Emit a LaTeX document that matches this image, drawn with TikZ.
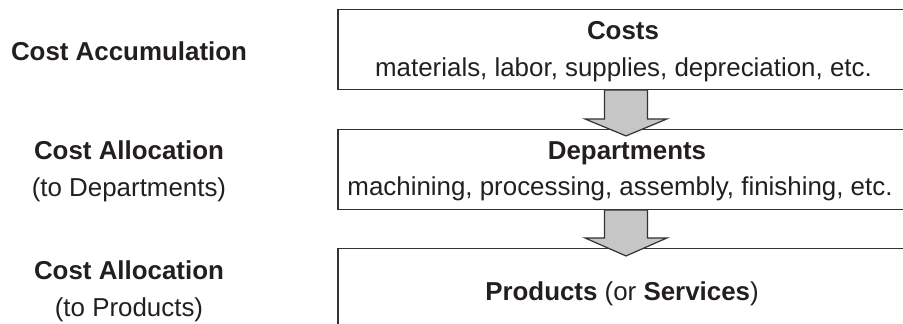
\documentclass[tikz,border=0pt]{standalone}
\usepackage{fontspec}
\setmainfont{Liberation Sans}
\usetikzlibrary{calc}
\definecolor{ink}{HTML}{231F20}
\definecolor{rule}{HTML}{333333}
\definecolor{arrowfill}{HTML}{C6C6C6}
\tikzset{
  stagebox/.style={draw=rule, line width=1.3pt, rectangle, minimum width=576pt, inner sep=0pt},
  lbl/.style={anchor=base, inner sep=0pt, text=ink, font=\fontsize{25.9}{30}\selectfont},
  lblb/.style={lbl, font=\fontsize{25.9}{30}\selectfont\bfseries},
  flowarrow/.style={draw=rule, fill=arrowfill, line width=1.2pt, line join=miter},
}
\begin{document}
\begin{tikzpicture}[x=1pt, y=1pt]
\useasboundingbox (0,0) rectangle (903,-324);
\clip (0,0) rectangle (903,-324);

% stage boxes (they run past the right and bottom edges)
\node[stagebox, minimum height=80pt]  (costs) at (626,-49.3) {};
\node[stagebox, minimum height=80pt]  (dept)  at (626,-169.3) {};
\node[stagebox, minimum height=100pt] (prod)  at (626,-298.5) {};

% box contents
\node[lblb] (costsT) at (623,-39) {Costs};
\node[lbl]  (costsS) at (623.5,-76.5) {materials, labor, supplies, depreciation, etc.};
\node[lblb] (deptT)  at (627,-159.3) {Departments};
\node[lbl]  (deptS)  at (620,-195.5) {machining, processing, assembly, finishing, etc.};
\node[lbl]  (prodT)  at (622,-300) {\textbf{Products} (or \textbf{Services})};

% block arrows between the stages
\path[flowarrow] (costs.south) ++(-21.5,0) -- ++(0,-29) -- ++(-19.5,0)
  -- ++(41,-17) -- ++(41,17) -- ++(-19.5,0) -- ++(0,29) -- cycle;
\path[flowarrow] (dept.south) ++(-21.5,0) -- ++(0,-28) -- ++(-19.5,0)
  -- ++(41,-18) -- ++(41,18) -- ++(-19.5,0) -- ++(0,28) -- cycle;

% stage labels on the left
\node[lblb] (acc)   at (129,-60)  {Cost Accumulation};
\node[lblb] (allD)  at (129,-159) {Cost Allocation};
\node[lbl]  (allDs) at (129,-196.5) {(to Departments)};
\node[lblb] (allP)  at (129,-279) {Cost Allocation};
\node[lbl]  (allPs) at (129,-316.5) {(to Products)};
\end{tikzpicture}
\end{document}
